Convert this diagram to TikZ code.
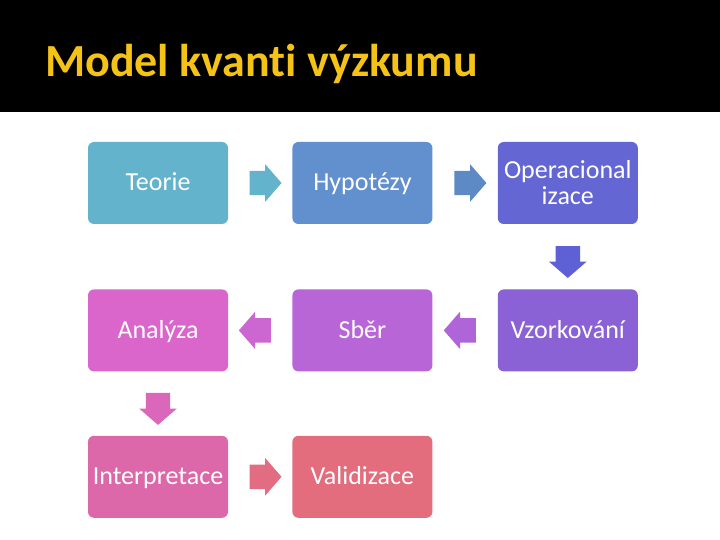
\documentclass[tikz,border=0pt]{standalone}
\usepackage{fontspec}
\setmainfont{Carlito}[Ligatures=NoCommon]
\usepackage{xcolor}
\usetikzlibrary{positioning,calc,shapes.arrows}

\definecolor{titlegold}{HTML}{F5C216}
\definecolor{cTeorie}{HTML}{62B3CB}
\definecolor{cHypo}{HTML}{6290CF}
\definecolor{cOper}{HTML}{6366D3}
\definecolor{cVzork}{HTML}{8A62D5}
\definecolor{cSber}{HTML}{B865D8}
\definecolor{cAnal}{HTML}{DA66CC}
\definecolor{cInterp}{HTML}{DD68A9}
\definecolor{cValid}{HTML}{E36C7D}

\begin{document}
\begin{tikzpicture}[
    x=1pt,y=-1pt,
    stage/.style={rounded corners=6pt,minimum width=140pt,minimum height=82pt,align=center,
      text=white,font=\fontsize{26}{26}\selectfont,inner sep=2pt},
    onestage/.style={stage,text height=20pt,text depth=4pt},
    blockarrow/.style={single arrow,draw=none,inner xsep=0pt,inner ysep=12pt,
      minimum height=32pt,single arrow head extend=6.5pt,single arrow tip angle=98}
  ]
    \useasboundingbox (0,0) rectangle (720,540);
    \fill[white] (0,0) rectangle (720,540);
    \fill[black] (0,0) rectangle (720,112);
    \node[anchor=base west,inner sep=0pt,text=titlegold,font=\fontsize{46}{50}\selectfont\bfseries] (title) at (45,77) {Model kvanti výzkumu};

    % first row
    \node[onestage,fill=cTeorie] (teorie) at (158,183) {Teorie};
    \node[onestage,fill=cHypo,right=64pt of teorie] (hypo) {Hypotézy};
    \node[stage,fill=cOper,right=65pt of hypo] (oper) {Operacional\\izace};
    % second row
    \node[onestage,fill=cVzork,below=65pt of oper] (vzork) {Vzorkování};
    \node[onestage,fill=cSber,below=65pt of hypo] (sber) {Sběr};
    \node[onestage,fill=cAnal,below=65pt of teorie] (analyza) {Analýza};
    % third row
    \node[onestage,fill=cInterp,below=64pt of analyza] (interp) {Interpretace};
    \node[onestage,fill=cValid,below=64pt of sber] (valid) {Validizace};

    % block arrows
    \node[blockarrow,fill=cTeorie] (a1) at ($(teorie.east)!0.5!(hypo.west)$) {};
    \node[blockarrow,fill=cHypo!95!black] (a2) at ($(hypo.east)!0.5!(oper.west)$) {};
    \node[blockarrow,fill=cOper!95!blue,rotate=-90] (a3) at ($(oper.south)!0.5!(vzork.north)$) {};
    \node[blockarrow,fill=cSber!80!cVzork,rotate=180] (a4) at ($(vzork.west)!0.5!(sber.east)$) {};
    \node[blockarrow,fill=cAnal!60!cSber,rotate=180] (a5) at ($(sber.west)!0.5!(analyza.east)$) {};
    \node[blockarrow,fill=cAnal!50!cInterp,rotate=-90] (a6) at ($(analyza.south)!0.5!(interp.north)$) {};
    \node[blockarrow,fill=cValid!90!cInterp] (a7) at ($(interp.east)!0.5!(valid.west)$) {};
  \end{tikzpicture}
\end{document}
